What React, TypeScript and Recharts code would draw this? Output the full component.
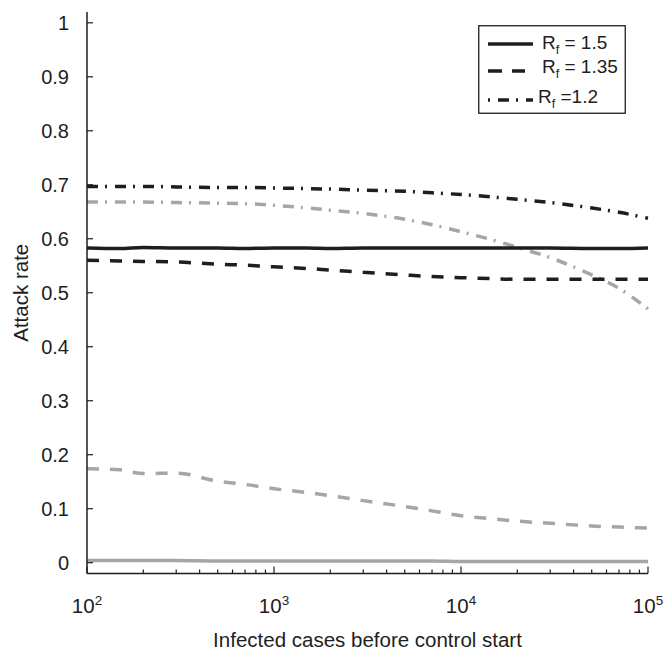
import { LineChart, Line, XAxis, YAxis, Legend } from "recharts";

// infected cases before control start (x, log scale)
const cases = [100, 150, 200, 300, 500, 700, 1000, 1500, 2000, 3000, 5000, 7000, 10000, 15000, 20000, 30000, 50000, 70000, 100000];

// attack rate, black curves
const rf15Black = [0.583, 0.582, 0.584, 0.583, 0.583, 0.582, 0.583, 0.583, 0.582, 0.583, 0.583, 0.583, 0.583, 0.583, 0.583, 0.583, 0.582, 0.582, 0.583];
const rf135Black = [0.56, 0.559, 0.558, 0.557, 0.553, 0.551, 0.548, 0.545, 0.542, 0.538, 0.533, 0.53, 0.528, 0.526, 0.525, 0.525, 0.525, 0.525, 0.525];
const rf12Black = [0.697, 0.697, 0.697, 0.696, 0.695, 0.695, 0.694, 0.693, 0.692, 0.69, 0.688, 0.685, 0.682, 0.677, 0.673, 0.667, 0.657, 0.649, 0.638];

// attack rate, gray curves
const rf15Gray = [0.004, 0.004, 0.004, 0.004, 0.003, 0.003, 0.003, 0.003, 0.003, 0.003, 0.003, 0.003, 0.002, 0.002, 0.002, 0.002, 0.002, 0.002, 0.002];
const rf135Gray = [0.174, 0.172, 0.165, 0.166, 0.151, 0.145, 0.137, 0.13, 0.124, 0.115, 0.104, 0.096, 0.087, 0.081, 0.077, 0.073, 0.068, 0.066, 0.064];
const rf12Gray = [0.668, 0.668, 0.668, 0.667, 0.666, 0.665, 0.662, 0.657, 0.653, 0.647, 0.636, 0.626, 0.613, 0.597, 0.584, 0.565, 0.533, 0.508, 0.47];

const xTicks = [
  100, 200, 300, 400, 500, 600, 700, 800, 900,
  1000, 2000, 3000, 4000, 5000, 6000, 7000, 8000, 9000,
  10000, 20000, 30000, 40000, 50000, 60000, 70000, 80000, 90000,
  100000,
];
const yTicks = [0, 0.1, 0.2, 0.3, 0.4, 0.5, 0.6, 0.7, 0.8, 0.9, 1];

const legendLabels = ["= 1.5", "= 1.35", "=1.2"];

const data = cases.map((c, i) => ({
  cases: c,
  rf15Black: rf15Black[i],
  rf135Black: rf135Black[i],
  rf12Black: rf12Black[i],
  rf15Gray: rf15Gray[i],
  rf135Gray: rf135Gray[i],
  rf12Gray: rf12Gray[i],
}));

const FONT = "'Liberation Sans', Arial, Helvetica, sans-serif";
const INK = "#1e1e1e";
const GRAY = "#a6a6a6";
const DASH = "12 11";
const DASH_DOT = "11 7 2 8";

const W = 665;
const H = 651;
const PLOT_LEFT = 87;
const PLOT_RIGHT = 648;
const PLOT_TOP = 12;
const X_AXIS_H = 77.5;
const PLOT_BOTTOM = H - X_AXIS_H;

function XTick(props: any) {
  const { x, payload } = props;
  const v = payload.value;
  const exp = Math.round(Math.log10(v));
  const major = Math.abs(Math.log10(v) - exp) < 1e-9;
  return (
    <g>
      <line x1={x} x2={x} y1={PLOT_BOTTOM} y2={PLOT_BOTTOM - (major ? 7 : 4)} stroke={INK} strokeWidth={1.2} />
      {major && (
        <text x={x} y={613} textAnchor="middle" fontFamily={FONT} fontSize={20.5} fill={INK}>
          10
          <tspan dy={-8} fontSize={13.5}>
            {exp}
          </tspan>
        </text>
      )}
    </g>
  );
}

function YTickLeft(props: any) {
  const { y, payload } = props;
  return (
    <g>
      <line x1={PLOT_LEFT} x2={PLOT_LEFT + 6} y1={y} y2={y} stroke={INK} strokeWidth={1.2} />
      <text x={PLOT_LEFT - 18} y={y} dy="0.36em" textAnchor="end" fontFamily={FONT} fontSize={20} fill={INK}>
        {payload.value}
      </text>
    </g>
  );
}

function YTickRight(props: any) {
  const { y } = props;
  return <line x1={PLOT_RIGHT - 6} x2={PLOT_RIGHT} y1={y} y2={y} stroke={INK} strokeWidth={1.2} />;
}

function LegendBox() {
  const dashes = [undefined, "14 10", DASH_DOT];
  const offsets = [0, 0, 18];
  const lineEnd = [55, 47, 55];
  const lineY = [19, 46, 75];
  const textY = [23.5, 47.5, 77.5];
  const textX = [64, 64, 60];
  return (
    <svg width={148} height={89} style={{ display: "block" }}>
      <rect x={0.75} y={0.75} width={146.5} height={87.5} fill="#fff" stroke={INK} strokeWidth={1.3} />
      {legendLabels.map((lab, i) => (
        <g key={lab}>
          <line
            x1={10}
            x2={lineEnd[i]}
            y1={lineY[i]}
            y2={lineY[i]}
            stroke={INK}
            strokeWidth={3.5}
            strokeDasharray={dashes[i]}
            strokeDashoffset={offsets[i]}
          />
          <text x={textX[i]} y={textY[i]} fontFamily={FONT} fontSize={19} fill={INK}>
            R
            <tspan dy={5} fontSize={12.5}>
              f
            </tspan>
            <tspan dy={-5}> {lab}</tspan>
          </text>
        </g>
      ))}
    </svg>
  );
}

export default function App() {
  return (
    <div style={{ position: "absolute", left: 0, top: 0, background: "#fff" }}>
      <LineChart width={W} height={H} data={data} margin={{ top: PLOT_TOP, right: W - PLOT_RIGHT, bottom: 0, left: 0 }}>
        <XAxis
          dataKey="cases"
          type="number"
          scale="log"
          domain={[100, 100000]}
          ticks={xTicks}
          interval={0}
          tick={<XTick />}
          tickLine={false}
          height={X_AXIS_H}
          axisLine={{ stroke: INK, strokeWidth: 1.5 }}
          label={(p: any) => (
            <text x={(PLOT_LEFT + PLOT_RIGHT) / 2} y={646.5} textAnchor="middle" fontFamily={FONT} fontSize={20.5} fill={INK}>
              Infected cases before control start
            </text>
          )}
        />
        <XAxis
          xAxisId="top"
          orientation="top"
          dataKey="cases"
          type="number"
          scale="log"
          domain={[100, 100000]}
          height={0}
          tick={false}
          tickLine={false}
          axisLine={{ stroke: INK, strokeWidth: 1.5 }}
        />
        <YAxis
          domain={[-0.02, 1.02]}
          ticks={yTicks}
          interval={0}
          width={PLOT_LEFT}
          tick={<YTickLeft />}
          tickLine={false}
          axisLine={{ stroke: INK, strokeWidth: 1.5 }}
          label={(p: any) => (
            <text
              x={20}
              y={(PLOT_TOP + PLOT_BOTTOM) / 2}
              transform={`rotate(-90 20 ${(PLOT_TOP + PLOT_BOTTOM) / 2})`}
              textAnchor="middle"
              dominantBaseline="central"
              fontFamily={FONT}
              fontSize={20.5}
              fill={INK}
            >
              Attack rate
            </text>
          )}
        />
        <YAxis
          yAxisId="right"
          orientation="right"
          domain={[-0.02, 1.02]}
          ticks={yTicks}
          interval={0}
          width={0}
          tick={<YTickRight />}
          tickLine={false}
          axisLine={{ stroke: INK, strokeWidth: 1.5 }}
        />
        <Legend
          layout="vertical"
          align="center"
          verticalAlign="middle"
          content={() => <LegendBox />}
          wrapperStyle={{ left: 478, top: 25, width: 148, height: 89 }}
        />
        <Line type="monotone" dataKey="rf15Gray" stroke={GRAY} strokeWidth={3.5} dot={false} isAnimationActive={false} legendType="none" />
        <Line type="monotone" dataKey="rf135Gray" stroke={GRAY} strokeWidth={3.5} strokeDasharray={DASH} dot={false} isAnimationActive={false} legendType="none" />
        <Line type="monotone" dataKey="rf12Gray" stroke={GRAY} strokeWidth={3.5} strokeDasharray={DASH_DOT} dot={false} isAnimationActive={false} legendType="none" />
        <Line type="monotone" dataKey="rf15Black" stroke={INK} strokeWidth={3.5} dot={false} isAnimationActive={false} />
        <Line type="monotone" dataKey="rf135Black" stroke={INK} strokeWidth={3.5} strokeDasharray={DASH} dot={false} isAnimationActive={false} />
        <Line type="monotone" dataKey="rf12Black" stroke={INK} strokeWidth={3.5} strokeDasharray={DASH_DOT} dot={false} isAnimationActive={false} />
      </LineChart>
    </div>
  );
}
